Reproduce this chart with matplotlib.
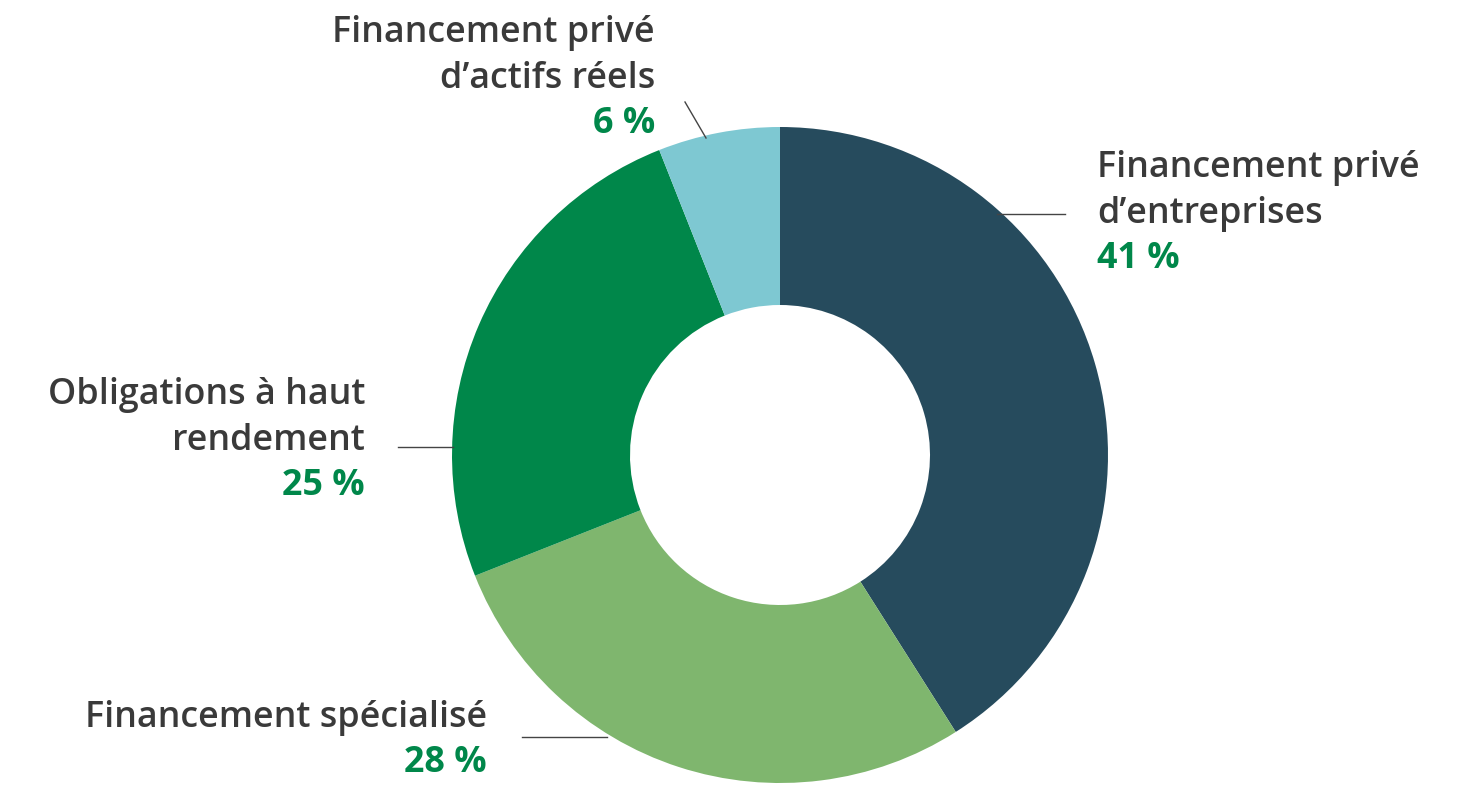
import matplotlib.pyplot as plt

# donnees
categories = ["Financement privé\nd\u2019entreprises", "Financement spécialisé",
              "Obligations à haut\nrendement", "Financement privé\nd\u2019actifs réels"]
valeurs = [41, 28, 25, 6]
couleurs = ["#264B5D", "#7FB66E", "#00874A", "#7EC8D2"]

W, H = 1481, 790
plt.rcParams['font.family'] = ['Open Sans', 'DejaVu Sans']

fig = plt.figure(figsize=(W / 100, H / 100), dpi=100)
ax = fig.add_axes([0, 0, 1, 1])

cx, cy, r_ext, r_int = 780, H - 455, 328, 150
ax.pie(valeurs, colors=couleurs, startangle=90, counterclock=False,
       radius=r_ext, center=(cx, cy),
       wedgeprops=dict(width=r_ext - r_int, linewidth=0))
ax.set_xlim(0, W)
ax.set_ylim(0, H)
ax.set_aspect('equal')
ax.axis('off')

# placement des etiquettes (pixels depuis le haut) : x, y du texte, alignement, ligne de rappel
placements = [
    (1097, 168, 'left', [(997, 214), (1065, 214)]),
    (487, 718, 'right', [(522, 737), (607, 737)]),
    (365, 395, 'right', [(398, 447), (453, 447)]),
    (655, 33, 'right', [(685, 102), (706, 138)]),
]

gris = "#3a3a3a"
vert = "#00874A"
pas = 45.5
for cat, val, (tx, ty, ha, ligne) in zip(categories, valeurs, placements):
    lignes = cat.split("\n")
    for i, l in enumerate(lignes):
        ax.text(tx, H - (ty + i * pas), l, ha=ha, va='center', fontsize=25.8,
                color=gris, fontweight='semibold')
    ax.text(tx, H - (ty + len(lignes) * pas), f"{val} %", ha=ha, va='center',
            fontsize=25.8, color=vert, fontweight='bold')
    (x0, y0), (x1, y1) = ligne
    ax.plot([x0, x1], [H - y0, H - y1], color="#444444", linewidth=1)

fig.savefig("out.png", dpi=100)
